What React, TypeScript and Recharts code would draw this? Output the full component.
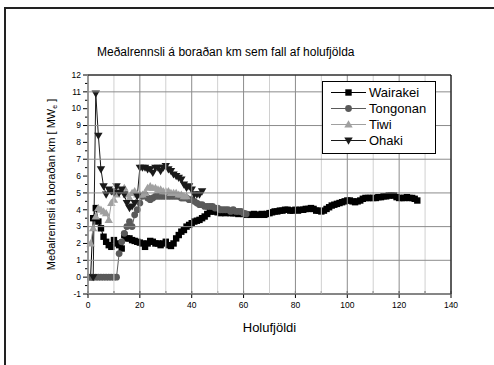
import React from "react";
import { LineChart, Line, XAxis, YAxis, CartesianGrid, ReferenceLine } from "recharts";

const xTicks = [0, 10, 20, 30, 40, 50, 60, 70, 80, 90, 100, 110, 120, 130, 140];
const yTicks = [-1, 0, 1, 2, 3, 4, 5, 6, 7, 8, 9, 10, 11, 12];
const yGrid = [0, 1, 2, 3, 4, 5, 6, 7, 8, 9, 10, 11];
const xGridMajor = [20, 40, 60, 80, 100, 120];
const xGridMinor = [10, 30, 50, 70, 90, 110, 130];
const xDomain = [0, 140];
const yDomain = [-1, 12];

// Wairakei, holes 1..127
const wairakei = [
  0, 3.5, 4.1, 3.3, 2.9, 2.4, 2.1, 1.9, 1.8, 2.2, 2.0, 1.9, 1.7, 2.5, 2.3, 2.3, 2.2, 2.15, 2.1, 2.05,
  2.0, 1.8, 2.0, 2.15, 2.1, 2.0, 2.0, 1.9, 2.0, 2.1, 1.9, 1.85, 2.0, 2.3, 2.5, 2.7, 2.8, 3.0, 3.1, 3.2,
  3.3, 3.35, 3.4, 3.5, 3.6, 3.75, 3.9, 3.9, 3.9, 3.85, 3.8, 3.85, 3.8, 3.85, 3.8, 3.8, 3.8, 3.75, 3.8, 3.75,
  3.7, 3.7, 3.7, 3.75, 3.7, 3.7, 3.75, 3.7, 3.75, 3.8, 3.85, 3.9, 3.9, 3.95, 3.95, 4.0, 4.0, 3.95, 3.95, 4.0,
  3.95, 4.0, 4.0, 4.05, 4.05, 4.1, 4.05, 3.95, 3.95, 3.9, 3.95, 4.05, 4.15, 4.25, 4.3, 4.35, 4.4, 4.45, 4.5, 4.55,
  4.55, 4.5, 4.45, 4.5, 4.55, 4.65, 4.7, 4.7, 4.7, 4.7, 4.7, 4.75, 4.75, 4.8, 4.8, 4.85, 4.85, 4.85, 4.75, 4.7,
  4.7, 4.7, 4.75, 4.7, 4.7, 4.65, 4.55,
];
const wairakeiStart = 1;

// Tongonan, holes 1..61
const tongonan = [
  0, 0, 0, 0, 0, 0, 0, 0, 0, 0, 0, 1.4, 2.1, 2.6, 3.0, 3.3, 3.0, 3.7, 4.0, 4.4,
  4.8, 4.9, 4.7, 4.6, 4.7, 4.8, 4.8, 4.8, 4.8, 4.8, 4.8, 4.8, 4.8, 4.8, 4.8, 4.7, 4.7, 4.7, 4.6, 4.6,
  4.5, 4.4, 4.3, 4.3, 4.2, 4.2, 4.2, 4.2, 4.1, 4.1, 4.0, 4.0, 4.0, 4.0, 3.9, 4.0, 3.9, 3.9, 3.9, 3.8, 3.75,
];
const tongonanStart = 1;

// Tiwi, holes 1..38
const tiwi = [
  2.0, 2.9, 3.6, 4.1, 4.0, 3.9, 3.8, 3.4, 4.4, 4.6, 4.9, 5.2, 5.1, 5.3, 4.9, 4.7, 5.0, 5.1, 4.9, 4.9,
  4.9, 5.0, 5.3, 5.4, 5.3, 5.3, 5.2, 5.2, 5.1, 5.1, 5.1, 5.0, 5.0, 5.0, 4.9, 4.9, 4.8, 4.8,
];
const tiwiStart = 1;

// Ohaki, holes 2..44
const ohaki = [
  0, 10.9, 8.4, 6.4, 5.4, 4.9, 5.2, 5.1, 5.0, 5.4, 5.0, 5.2, 4.9, 4.4, 4.1, 4.2, 4.4, 4.8, 6.5,
  6.5, 6.5, 6.4, 6.4, 6.2, 6.5, 6.5, 6.3, 6.5, 6.6, 6.4, 6.3, 6.1, 6.0, 5.9, 5.8, 5.5, 5.3, 5.4, 5.2,
  4.9, 4.9, 4.9, 5.1,
];
const ohakiStart = 2;

const toPoints = (vals: number[], start: number) => vals.map((v, i) => ({ x: start + i, y: v }));

type Shape = "square" | "circle" | "up" | "down";

const series: { name: string; color: string; shape: Shape; data: { x: number; y: number }[] }[] = [
  { name: "Wairakei", color: "#000000", shape: "square", data: toPoints(wairakei, wairakeiStart) },
  { name: "Tongonan", color: "#5a5a5a", shape: "circle", data: toPoints(tongonan, tongonanStart) },
  { name: "Tiwi", color: "#a0a0a0", shape: "up", data: toPoints(tiwi, tiwiStart) },
  { name: "Ohaki", color: "#1a1a1a", shape: "down", data: toPoints(ohaki, ohakiStart) },
];

const CHART_W = 494;
const CHART_H = 365;
const MARGIN = { top: 75, right: 43, bottom: 41, left: 0 };
const X_AXIS_H = 30;
const Y_AXIS_W = 88;
const PLOT_H = CHART_H - MARGIN.top - MARGIN.bottom - X_AXIS_H;
const HALF_STEP = PLOT_H / (yDomain[1] - yDomain[0]) / 2;

function Marker({ shape, cx, cy, color }: { shape: Shape; cx: number; cy: number; color: string }) {
  if (shape === "square") return <rect x={cx - 3.2} y={cy - 3.2} width={6.4} height={6.4} fill={color} />;
  if (shape === "circle") return <circle cx={cx} cy={cy} r={3.4} fill={color} />;
  if (shape === "up")
    return <polygon points={`${cx},${cy - 4.2} ${cx - 4.2},${cy + 3.0} ${cx + 4.2},${cy + 3.0}`} fill={color} />;
  return <polygon points={`${cx},${cy + 4.2} ${cx - 4.2},${cy - 3.0} ${cx + 4.2},${cy - 3.0}`} fill={color} />;
}

const font = "'Liberation Sans', Arial, sans-serif";

function YTick(props: any) {
  const { x, y, payload } = props;
  const axisX = x + 7;
  const v = payload.value as number;
  return (
    <g>
      <line x1={axisX - 5} x2={axisX} y1={y} y2={y} stroke="#000" />
      {v < yDomain[1] && <line x1={axisX - 3} x2={axisX} y1={y - HALF_STEP} y2={y - HALF_STEP} stroke="#000" />}
      <text x={x} y={y} dy="0.33em" textAnchor="end" fontSize={8.5} fontFamily={font} fill="#000">
        {v}
      </text>
    </g>
  );
}

function XTick(props: any) {
  const { x, y, payload } = props;
  const axisY = y - 8;
  const v = payload.value as number;
  const major = v % 20 === 0;
  return (
    <g>
      {major ? (
        <line x1={x} x2={x} y1={axisY - 3} y2={axisY + 4} stroke="#000" />
      ) : (
        <line x1={x} x2={x} y1={axisY - 3} y2={axisY} stroke="#000" />
      )}
      {major && (
        <text x={x} y={y} dy="0.71em" textAnchor="middle" fontSize={8.5} fontFamily={font} fill="#000">
          {v}
        </text>
      )}
    </g>
  );
}

function YLabel(props: any) {
  const vb = props.viewBox || { x: 0, y: 75, width: 88, height: 219 };
  const cx = 55;
  const cy = vb.y + vb.height / 2;
  return (
    <text
      x={cx}
      y={cy}
      transform={`rotate(-90 ${cx} ${cy})`}
      textAnchor="middle"
      fontSize={11}
      fontFamily={font}
      fill="#000"
    >
      <tspan>Meðalrennsli á boraðan km [ MW</tspan>
      <tspan fontSize={7} dy={2}>e</tspan>
      <tspan dy={-2}> ]</tspan>
    </text>
  );
}

function LegendBox() {
  return (
    <svg width={115} height={74} style={{ display: "block" }}>
      <rect x={0.5} y={0.5} width={113} height={72} fill="#fff" stroke="#000" />
      {series.map((s, i) => {
        const ry = 11.5 + i * 16;
        return (
          <g key={s.name}>
            <line x1={9} x2={44} y1={ry} y2={ry} stroke={s.color} />
            <Marker shape={s.shape} cx={26.5} cy={ry} color={s.color} />
            <text x={47} y={ry + 4.6} fontSize={13} fontFamily={font} fill="#000">
              {s.name}
            </text>
          </g>
        );
      })}
    </svg>
  );
}

// A transparent chart layer with the same layout that only draws grid lines
function GridLayer({ xVals, yVals, color, border }: { xVals: number[]; yVals: number[]; color: string; border?: boolean }) {
  return (
    <div style={{ position: "absolute", left: 0, top: 0, pointerEvents: "none" }}>
      <LineChart width={CHART_W} height={CHART_H} margin={MARGIN}>
        <CartesianGrid stroke={color} horizontal={yVals.length > 0} vertical={xVals.length > 0} />
        <XAxis
          type="number"
          dataKey="x"
          domain={xDomain}
          ticks={xVals.length > 0 ? xVals : xGridMajor}
          height={X_AXIS_H}
          stroke="none"
          tick={{ fill: "none", fontSize: 6 }}
        />
        <YAxis
          type="number"
          dataKey="y"
          domain={yDomain}
          ticks={yVals.length > 0 ? yVals : yGrid}
          width={Y_AXIS_W}
          stroke="none"
          tick={{ fill: "none", fontSize: 6 }}
        />
        {border && <ReferenceLine x={xDomain[1]} stroke="#000" />}
        {border && <ReferenceLine y={yDomain[1]} stroke="#000" />}
        <Line data={series[0].data} dataKey="y" stroke="none" dot={false} activeDot={false} isAnimationActive={false} />
      </LineChart>
    </div>
  );
}

export default function App() {
  return (
    <div style={{ position: "absolute", left: 0, top: 0, width: CHART_W, height: CHART_H, background: "#fff" }}>
      <div
        style={{
          position: "absolute",
          left: 4,
          top: 7,
          width: 490,
          height: 358,
          borderLeft: "2px solid #222",
          borderTop: "2px solid #222",
        }}
      />
      <span
        style={{
          position: "absolute",
          left: 97,
          top: 45,
          whiteSpace: "nowrap",
          fontFamily: font,
          fontSize: 12,
          color: "#000",
        }}
      >
        Meðalrennsli á boraðan km sem fall af holufjölda
      </span>
      <div style={{ position: "absolute", left: 0, top: 0 }}>
        <LineChart width={CHART_W} height={CHART_H} margin={MARGIN}>
          <XAxis
            type="number"
            dataKey="x"
            domain={xDomain}
            ticks={xTicks}
            interval={0}
            stroke="#000"
            tickLine={false}
            tickSize={4}
            tickMargin={4}
            tick={<XTick />}
            height={X_AXIS_H}
            label={{ value: "Holufjöldi", position: "insideBottom", offset: -8, fontSize: 13, fontFamily: font, fill: "#000" }}
          />
          <YAxis
            type="number"
            dataKey="y"
            domain={yDomain}
            ticks={yTicks}
            interval={0}
            stroke="#000"
            tickLine={false}
            tickSize={5}
            tickMargin={2}
            tick={<YTick />}
            width={Y_AXIS_W}
            label={<YLabel />}
          />
          {series.map((s) => (
            <Line
              key={s.name}
              data={s.data}
              dataKey="y"
              name={s.name}
              type="linear"
              stroke={s.color}
              strokeWidth={1}
              isAnimationActive={false}
              dot={(p: any) => <Marker key={`${s.name}-${p.index}`} shape={s.shape} cx={p.cx} cy={p.cy} color={s.color} />}
              activeDot={false}
            />
          ))}
        </LineChart>
      </div>
      <GridLayer xVals={xGridMinor} yVals={[]} color="#d0d0d0" />
      <GridLayer xVals={xGridMajor} yVals={yGrid} color="#8c8c8c" border />
      <div style={{ position: "absolute", left: 322, top: 81 }}>
        <LegendBox />
      </div>
    </div>
  );
}
